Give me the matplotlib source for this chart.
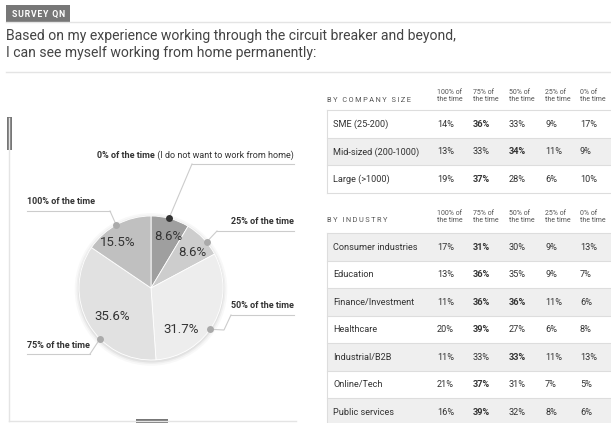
import matplotlib
matplotlib.use("Agg")
import matplotlib.pyplot as plt
from matplotlib.patches import Rectangle
import numpy as np

plt.rcParams['font.family'] = ['Roboto', 'DejaVu Sans']

# --- data ---
pie_labels = ["0% of the time", "25% of the time", "50% of the time",
              "75% of the time", "100% of the time"]
pie_values = [8.6, 8.6, 31.7, 35.6, 15.5]
pie_colors = ["#9f9f9f", "#cdcdcd", "#ededed", "#e1e1e1", "#c0c0c0"]

col_headers = ["100% of\nthe time", "75% of\nthe time", "50% of\nthe time",
               "25% of\nthe time", "0% of\nthe time"]

size_rows = ["SME (25-200)", "Mid-sized (200-1000)", "Large (>1000)"]
size_vals = [[14, 36, 33, 9, 17],
             [13, 33, 34, 11, 9],
             [19, 37, 28, 6, 10]]
size_bold = [[1], [2], [1]]

ind_rows = ["Consumer industries", "Education", "Finance/Investment", "Healthcare",
            "Industrial/B2B", "Online/Tech", "Public services"]
ind_vals = [[17, 31, 30, 9, 13],
            [13, 36, 35, 9, 7],
            [11, 36, 36, 11, 6],
            [20, 39, 27, 6, 8],
            [11, 33, 33, 11, 13],
            [21, 37, 31, 7, 5],
            [16, 39, 32, 8, 6]]
ind_bold = [[1], [1], [1, 2], [1], [2], [1], [1]]

W, H = 611, 423
fig = plt.figure(figsize=(W / 100, H / 100), dpi=100)
ov = fig.add_axes([0, 0, 1, 1], zorder=2)
ov.set_xlim(0, W)
ov.set_ylim(H, 0)
ov.axis('off')
renderer = fig.canvas.get_renderer()

TXT = "#444444"
LINE = "#e4e4e4"


def spread(s, sep="\u2009"):
    # letter spacing via thin spaces between characters
    return sep.join(s)


# --- header ---
ov.add_patch(Rectangle((6, 5), 64, 17, color="#777777", lw=0))
ov.text(11.5, 14, spread("SURVEY QN", "\u200a"), fontsize=6.2, color="white",
        fontweight="bold", va="center")
ov.plot([6, W], [22, 22], color=LINE, lw=1)
ov.text(6, 36, "Based on my experience working through the circuit breaker and beyond,",
        fontsize=10.1, color=TXT, va="center")
ov.text(6, 53, "I can see myself working from home permanently:",
        fontsize=10.1, color=TXT, va="center")
ov.plot([6, W], [72, 72], color=LINE, lw=1)

# --- left frame ---
ov.plot([9, 9], [118, 421], color=LINE, lw=1)
ov.plot([9, 296], [421, 421], color=LINE, lw=1)
ov.add_patch(Rectangle((7, 117), 5, 33, color="#777777", lw=0))
ov.add_patch(Rectangle((136, 419), 32, 4, color="#777777", lw=0))

# --- pie ---
cx, cy, R = 151, 288, 72
pax = fig.add_axes([(cx - 90) / W, (H - cy - 90) / H, 180 / W, 180 / H], zorder=1)
for k, a in zip([1.06, 1.035, 1.015], [0.05, 0.08, 0.12]):
    pax.add_patch(plt.Circle((0, -0.02), k, color="#888888", alpha=a, lw=0))
wedges, _ = pax.pie(pie_values, colors=pie_colors, startangle=90, counterclock=False,
                    wedgeprops=dict(edgecolor="white", linewidth=0.6))
pax.set_xlim(-1.25, 1.25)
pax.set_ylim(-1.25, 1.25)

mids = [(w.theta1 + w.theta2) / 2 for w in wedges]
pct_shift = [-3, -3, -25, 6, 8]
pct_rad = [0.75, 0.75, 0.72, 0.67, 0.78]
dot_shift = [1, -4, -6, 15, 1]
dot_colors = ["#333333", "#aaaaaa", "#aaaaaa", "#aaaaaa", "#aaaaaa"]

for i, v in enumerate(pie_values):
    a = np.radians(mids[i] + pct_shift[i])
    pax.text(pct_rad[i] * np.cos(a), pct_rad[i] * np.sin(a), f"{v}%",
             ha="center", va="center", fontsize=9.5, color="#333333")

# leader lines: points after the dot, underline span, text anchor
leaders = [
    ([(192, 164)], (192, 294), "right"),
    ([(217, 231)], (217, 294), "right"),
    ([(224, 330), (231, 315)], (231, 294), "right"),
    ([(90, 354)], (27, 90), "left"),
    ([(110, 211)], (27, 110), "left"),
]
LFS = 6.5
for i, (pts, span, side) in enumerate(leaders):
    a = np.radians(mids[i] + dot_shift[i])
    dx, dy = cx + R * np.cos(a), cy - R * np.sin(a)
    uy = pts[-1][1]
    xs = [dx] + [p[0] for p in pts]
    ys = [dy] + [p[1] for p in pts]
    ov.plot(xs, ys, color="#cccccc", lw=0.8)
    ov.plot(span, [uy, uy], color="#cccccc", lw=0.8)
    ov.plot(dx, dy, "o", ms=5, color=dot_colors[i], mec="none")
    ty = uy - 9
    if side == "right":
        if i == 0:
            t = ov.text(294, ty, " (I do not want to work from home)", fontsize=LFS,
                        color="#333333", ha="right", va="center")
            w = t.get_window_extent(renderer).width
            ov.text(294 - w, ty, pie_labels[i], fontsize=LFS, color="#333333",
                    fontweight="bold", ha="right", va="center")
        else:
            ov.text(294, ty, pie_labels[i], fontsize=LFS, color="#333333",
                    fontweight="bold", ha="right", va="center")
    else:
        ov.text(27, ty, pie_labels[i], fontsize=LFS, color="#333333",
                fontweight="bold", ha="left", va="center")

# --- tables ---
col_x = [437, 473, 509, 545, 580]
ROW_H = 27.5
TFS = 6.6


def table(title, title_y, top, rows, vals, bold, first_gray):
    ov.text(327, title_y, spread(title), fontsize=5.3, color="#555555", va="center")
    for j, h in enumerate(col_headers):
        ov.text(col_x[j], title_y - 4, h, fontsize=5.0, color="#555555",
                va="center", ha="left", linespacing=1.05)
    n = len(rows)
    for r in range(n):
        y0 = top + r * ROW_H
        gray = (r % 2 == 0) == first_gray
        if gray:
            ov.add_patch(Rectangle((327, y0), W - 327, ROW_H, color="#efefef", lw=0))
        ov.plot([327, W], [y0, y0], color="#dddddd", lw=0.8)
        yc = y0 + ROW_H / 2
        ov.text(333, yc, rows[r], fontsize=TFS, color="#333333", va="center")
        for j, v in enumerate(vals[r]):
            ov.text(col_x[j], yc, f"{v}%", fontsize=TFS, color="#333333", va="center",
                    fontweight="bold" if j in bold[r] else "normal")
    ov.plot([327, W], [top + n * ROW_H] * 2, color="#dddddd", lw=0.8)
    ov.plot([327, 327], [top, top + n * ROW_H], color="#dddddd", lw=0.8)


table("BY COMPANY SIZE", 100, 110.5, size_rows, size_vals, size_bold, False)
table("BY INDUSTRY", 221, 233.5, ind_rows, ind_vals, ind_bold, True)

fig.savefig("out.png", dpi=100)
